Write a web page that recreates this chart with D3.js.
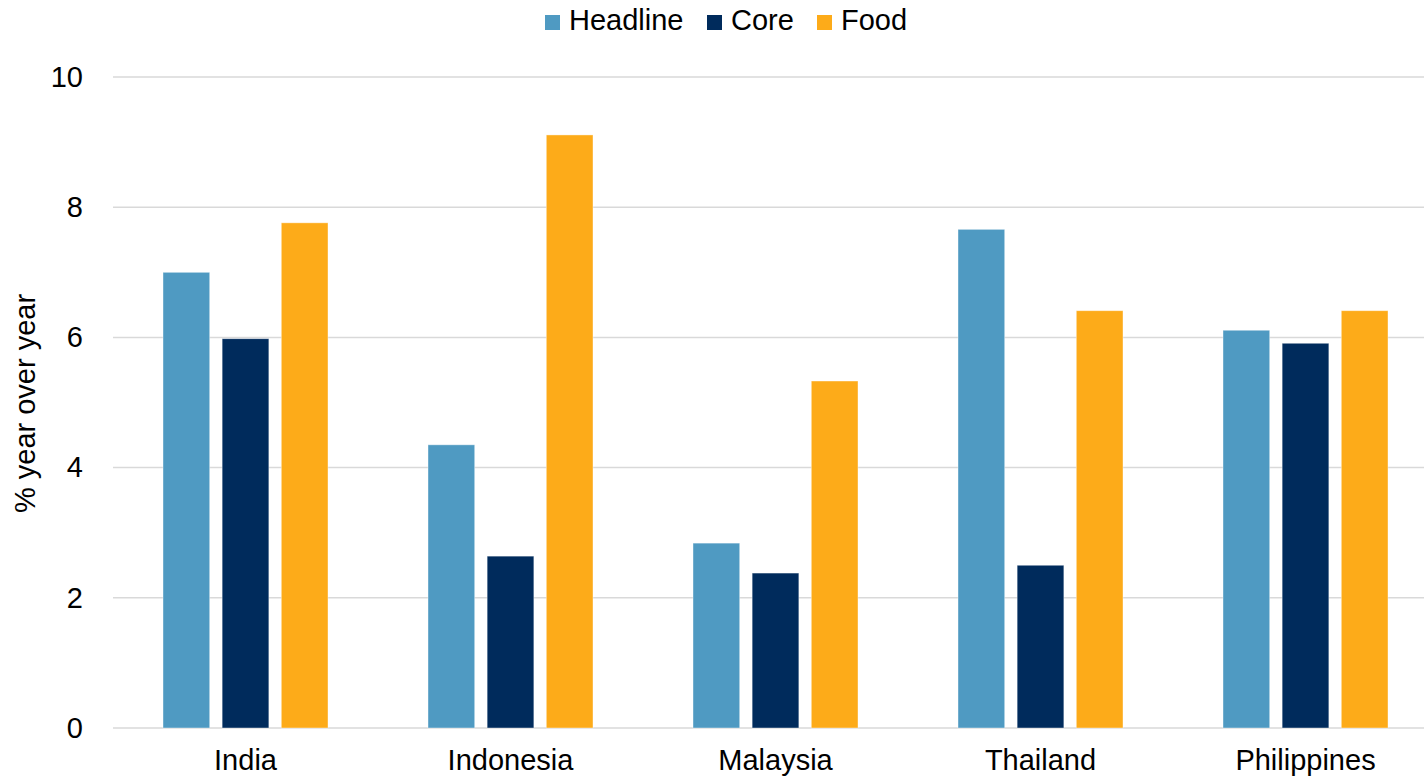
<!DOCTYPE html>
<html>
<head>
<meta charset="utf-8">
<script src="https://cdn.jsdelivr.net/npm/d3@7/dist/d3.min.js"></script>
<style>
  html, body { margin: 0; padding: 0; background: #fff; }
  svg { display: block; font-family: "Liberation Sans", Arial, sans-serif; }
</style>
</head>
<body>
<svg id="chart" width="1424" height="777"></svg>
<script>
// Inflation by country, % year over year
const countries = ["India", "Indonesia", "Malaysia", "Thailand", "Philippines"];
const seriesNames = ["Headline", "Core", "Food"];
const headline = [7.0, 4.35, 2.84, 7.66, 6.11];
const core = [5.98, 2.64, 2.38, 2.50, 5.91];
const food = [7.76, 9.11, 5.33, 6.41, 6.41];
const yTicks = [0, 2, 4, 6, 8, 10];
const colors = ["#4f9ac2", "#002b5c", "#fdab19"];

const FONT = 29;
const seriesValues = [headline, core, food];
const rows = countries.map((c, i) => ({
  country: c,
  values: seriesNames.map((s, j) => ({ series: s, value: seriesValues[j][i], idx: j }))
}));

const svg = d3.select("#chart");
const W = 1424, H = 777;
const margin = { left: 113, top: 77, bottom: 49 };
const plotRight = 1438;

const x = d3.scaleBand().domain(countries).range([margin.left, plotRight]).paddingInner(0).paddingOuter(0);
const xInner = d3.scaleBand().domain(seriesNames)
  .range([0, 165]).paddingInner(0.21).paddingOuter(0);
const y = d3.scaleLinear().domain([0, 10]).range([H - margin.bottom, margin.top]);

// Gridlines
svg.append("g")
  .selectAll("line")
  .data(yTicks)
  .join("line")
  .attr("x1", margin.left)
  .attr("x2", plotRight)
  .attr("y1", d => y(d))
  .attr("y2", d => y(d))
  .attr("stroke", "#d9d9d9")
  .attr("stroke-width", 1.5);

// Y axis labels
const yAxis = d3.axisLeft(y).tickValues(yTicks).tickSize(0).tickPadding(30);
const yg = svg.append("g").attr("transform", `translate(${margin.left},0)`).call(yAxis);
yg.select(".domain").remove();
yg.selectAll("text").attr("font-size", FONT).attr("fill", "#000")
  .attr("font-family", "Liberation Sans, Arial, sans-serif");

// Bars
const groups = svg.append("g")
  .selectAll("g")
  .data(rows)
  .join("g")
  .attr("transform", d => `translate(${x(d.country) + x.bandwidth() / 2 - 82.5},0)`);

groups.selectAll("rect")
  .data(d => d.values)
  .join("rect")
  .attr("x", d => xInner(d.series))
  .attr("width", xInner.bandwidth())
  .attr("y", d => y(d.value))
  .attr("height", d => y(0) - y(d.value))
  .attr("fill", d => colors[d.idx])
  .attr("stroke", "#ffffff")
  .attr("stroke-opacity", 0.5)
  .attr("stroke-width", 0.8);

// X axis labels
const xAxis = d3.axisBottom(x).tickSize(0).tickPadding(21);
const xg = svg.append("g").attr("transform", `translate(0,${y(0)})`).call(xAxis);
xg.select(".domain").remove();
xg.selectAll("text").attr("font-size", FONT).attr("fill", "#000")
  .attr("font-family", "Liberation Sans, Arial, sans-serif");

// Y axis title
svg.append("text")
  .attr("transform", `translate(35,${(margin.top + H - margin.bottom) / 2 + 1}) rotate(-90)`)
  .attr("text-anchor", "middle")
  .attr("font-size", FONT)
  .attr("fill", "#000")
  .text("% year over year");

// Legend
const legendX = [545, 707, 817];
const legend = svg.append("g")
  .selectAll("g")
  .data(seriesNames)
  .join("g")
  .attr("transform", (d, i) => `translate(${legendX[i]},0)`);
legend.append("rect")
  .attr("x", 0).attr("y", 15).attr("width", 15).attr("height", 15)
  .attr("fill", (d, i) => colors[i]);
legend.append("text")
  .attr("x", 24).attr("y", 30)
  .attr("font-size", FONT)
  .attr("fill", "#000")
  .text(d => d);
</script>
</body>
</html>
